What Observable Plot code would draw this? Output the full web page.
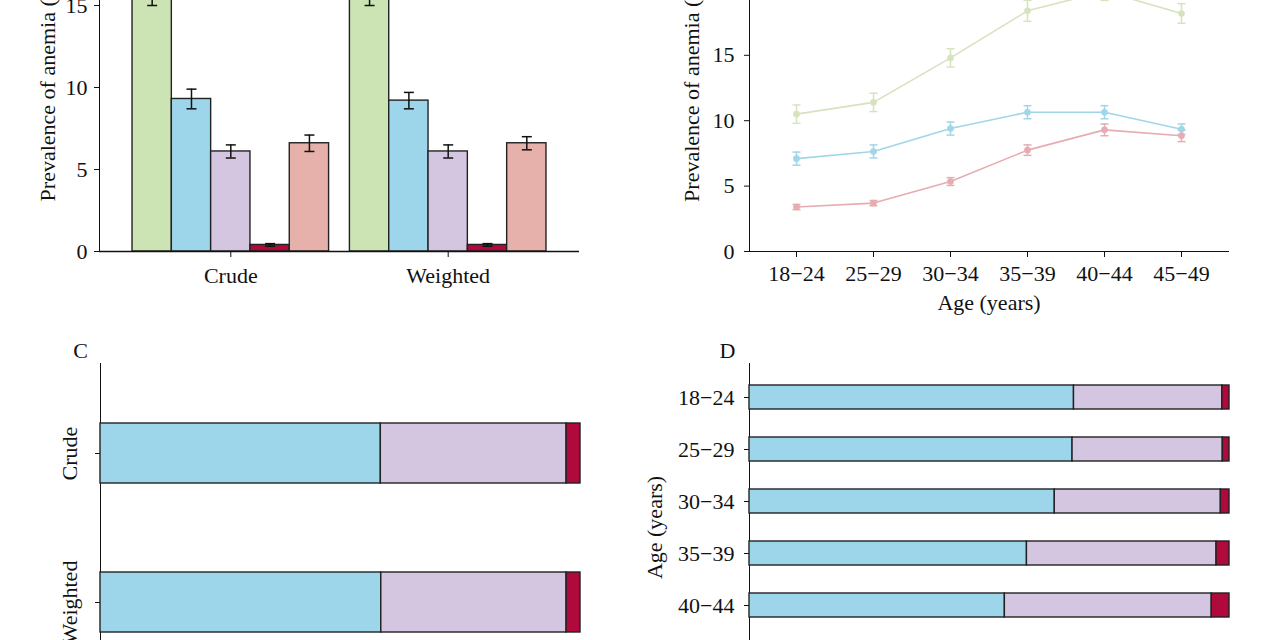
<!DOCTYPE html>
<html><head><meta charset="utf-8">
<script src="https://cdn.jsdelivr.net/npm/d3@7"></script>
<script src="https://cdn.jsdelivr.net/npm/@observablehq/plot@0.6"></script>
<style>
html,body{margin:0;padding:0;background:#fff;overflow:hidden;}
#wrap{position:relative;width:1280px;height:640px;overflow:hidden;background:#fff;}
.panel{position:absolute;}
</style></head><body><div id="wrap">
<div class="panel" id="pa" style="left:0;top:-97px"></div>
<div class="panel" id="pb" style="left:640px;top:-97px"></div>
<div class="panel" id="pc" style="left:0;top:333px"></div>
<div class="panel" id="pd" style="left:640px;top:333px"></div>
</div>
<script>
// ---------- data ----------
const groups = ["Crude", "Weighted"];
const categories = ["Any anemia", "Mild anemia", "Moderate anemia", "Severe anemia", "Iron deficiency anemia"];
const crudePrev = [15.8, 9.3, 6.1, 0.4, 6.6];
const crudeErr = [0.8, 0.6, 0.4, 0.08, 0.5];
const weightedPrev = [15.8, 9.2, 6.1, 0.4, 6.6];
const weightedErr = [0.8, 0.5, 0.4, 0.08, 0.4];
const barColors = ["#cce3b4", "#9dd5ea", "#d4c5e1", "#b0093c", "#e6b1ab"];

const ageGroups = ["18\u221224", "25\u221229", "30\u221234", "35\u221239", "40\u221244", "45\u221249"];
const lineSeries = ["Any anemia", "Mild anemia", "Iron deficiency anemia"];
const anyAnemiaByAge = [10.5, 11.4, 14.8, 18.4, 19.9, 18.2];
const anyAnemiaErrByAge = [0.7, 0.7, 0.7, 0.8, 0.7, 0.75];
const mildByAge = [7.1, 7.65, 9.4, 10.65, 10.65, 9.35];
const mildErrByAge = [0.5, 0.5, 0.5, 0.5, 0.5, 0.4];
const idaByAge = [3.4, 3.7, 5.35, 7.75, 9.3, 8.85];
const idaErrByAge = [0.2, 0.2, 0.3, 0.4, 0.45, 0.45];
const lineColors = ["#d6e3be", "#a0d6e8", "#e6acb1"];

const severityLevels = ["Mild", "Moderate", "Severe"];
const crudeShare = [58.4, 38.7, 2.9];
const weightedShare = [58.5, 38.6, 2.9];
const shareColors = ["#9dd5ea", "#d4c5e1", "#b0093c"];

const mildShareByAge = [67.6, 67.3, 63.6, 57.8, 53.2, 51.0];
const moderateShareByAge = [30.9, 31.3, 34.6, 39.5, 43.1, 44.5];
const severeShareByAge = [1.5, 1.4, 1.8, 2.7, 3.7, 4.5];

// ---------- shared ----------
const font = {fontFamily: "'Liberation Serif','Times New Roman',serif", fontSize: "22px", color: "#111", background: "transparent", overflow: "visible"};
const capSymbol = {draw(ctx) { ctx.moveTo(-5, 0); ctx.lineTo(5, 0); }};
const capSymbolSmall = {draw(ctx) { ctx.moveTo(-4, 0); ctx.lineTo(4, 0); }};

// ---------- Panel A ----------
const gapUnits = 0.53;
const nCat = categories.length;
const barsA = groups.flatMap((g, gi) => categories.map((c, ci) => ({
  group: g, cat: c, pos: gi * (nCat + gapUnits) + ci,
  value: (gi ? weightedPrev : crudePrev)[ci],
  err: (gi ? weightedErr : crudeErr)[ci]
})));
const groupCenters = groups.map((g, gi) => gi * (nCat + gapUnits) + (nCat - 1) / 2);
const outerUnits = 0.84;

const plotA = Plot.plot({
  width: 640, height: 408,
  marginLeft: 99, marginRight: 61, marginTop: 20, marginBottom: 60,
  style: font,
  x: {domain: [-0.5 - outerUnits, barsA[barsA.length - 1].pos + 0.5 + outerUnits], axis: null},
  y: {domain: [0, 20], ticks: [0, 5, 10, 15, 20], line: true, tickSize: 5, tickPadding: 7,
      label: "Prevalence of anemia (%)", labelAnchor: "center", labelOffset: 60, labelArrow: "none"},
  color: {domain: categories, range: barColors},
  marks: [
    Plot.rect(barsA, {x1: d => d.pos - 0.5, x2: d => d.pos + 0.5, y1: 0, y2: "value", fill: "cat", stroke: "#222", strokeWidth: 1.4}),
    Plot.ruleX(barsA, {x: "pos", y1: d => d.value - d.err, y2: d => d.value + d.err, stroke: "#111", strokeWidth: 1.5}),
    Plot.dot(barsA, {x: "pos", y: d => d.value - d.err, symbol: capSymbol, fill: "none", stroke: "#111", strokeWidth: 1.5}),
    Plot.dot(barsA, {x: "pos", y: d => d.value + d.err, symbol: capSymbol, fill: "none", stroke: "#111", strokeWidth: 1.5}),
    Plot.axisX(groupCenters, {tickFormat: (d, i) => groups[i], tickSize: 6, tickPadding: 10, label: null}),
    Plot.ruleY([0], {stroke: "#111", strokeWidth: 1.5})
  ]
});
document.getElementById("pa").append(plotA);

// ---------- Panel B ----------
const valsB = [anyAnemiaByAge, mildByAge, idaByAge];
const errsB = [anyAnemiaErrByAge, mildErrByAge, idaErrByAge];
const rowsB = lineSeries.flatMap((s, si) => ageGroups.map((a, ai) => ({series: s, age: a, value: valsB[si][ai], err: errsB[si][ai]})));

const plotB = Plot.plot({
  width: 640, height: 418,
  marginLeft: 109, marginRight: 52, marginTop: 21, marginBottom: 70,
  style: font,
  x: {domain: ageGroups, padding: 0.6, line: true, tickSize: 6, tickPadding: 8,
      label: "Age (years)", labelAnchor: "center", labelOffset: 58, labelArrow: "none"},
  y: {domain: [0, 25], ticks: [0, 5, 10, 15, 20, 25], line: true, tickSize: 5, tickPadding: 10,
      label: "Prevalence of anemia (%)", labelAnchor: "center", labelOffset: 66, labelArrow: "none"},
  color: {domain: lineSeries, range: lineColors},
  marks: [
    Plot.line(rowsB, {x: "age", y: "value", z: "series", stroke: "series", strokeWidth: 1.6}),
    Plot.ruleX(rowsB, {x: "age", y1: d => d.value - d.err, y2: d => d.value + d.err, stroke: "series", strokeWidth: 1.5}),
    Plot.dot(rowsB, {x: "age", y: d => d.value - d.err, symbol: capSymbolSmall, fill: "none", stroke: "series", strokeWidth: 1.5}),
    Plot.dot(rowsB, {x: "age", y: d => d.value + d.err, symbol: capSymbolSmall, fill: "none", stroke: "series", strokeWidth: 1.5}),
    Plot.dot(rowsB, {x: "age", y: "value", fill: "series", r: 3.3})
  ]
});
document.getElementById("pb").append(plotB);

// ---------- Panel C ----------
const rowsC = groups.flatMap((g, gi) => severityLevels.map((l, li) => ({group: g, level: l, share: (gi ? weightedShare : crudeShare)[li]})));
const plotC = Plot.plot({
  width: 640, height: 388,
  marginLeft: 100, marginRight: 60, marginTop: 30, marginBottom: 30,
  style: font,
  x: {domain: [0, 100], axis: null},
  y: {domain: groups, paddingInner: 0.6, paddingOuter: 0.4, line: true, tickSize: 5, tickPadding: 19, tickRotate: -90, label: null},
  color: {domain: severityLevels, range: shareColors},
  marks: [
    Plot.barX(rowsC, Plot.stackX({x: "share", y: "group", fill: "level", stroke: "#222", strokeWidth: 1.4, order: null})),
    Plot.text(["C"], {text: d => d, frameAnchor: "top-left", textAnchor: "middle", lineAnchor: "middle", dx: -20, dy: -13})
  ]
});
document.getElementById("pc").append(plotC);

// ---------- Panel D ----------
const sharesD = [mildShareByAge, moderateShareByAge, severeShareByAge];
const rowsD = ageGroups.flatMap((a, ai) => severityLevels.map((l, li) => ({age: a, level: l, share: sharesD[li][ai]})));
const plotD = Plot.plot({
  width: 640, height: 388,
  marginLeft: 109, marginRight: 51, marginTop: 30, marginBottom: 30,
  style: font,
  x: {domain: [0, 100], axis: null},
  y: {domain: ageGroups, paddingInner: 0.53, paddingOuter: 0.366, line: true, tickSize: 5, tickPadding: 10,
      label: "Age (years)", labelAnchor: "center", labelOffset: 103, labelArrow: "none"},
  color: {domain: severityLevels, range: shareColors},
  marks: [
    Plot.barX(rowsD, Plot.stackX({x: "share", y: "age", fill: "level", stroke: "#222", strokeWidth: 1.4, order: null})),
    Plot.text(["D"], {text: d => d, frameAnchor: "top-left", textAnchor: "middle", lineAnchor: "middle", dx: -22, dy: -13})
  ]
});
document.getElementById("pd").append(plotD);
</script>
</body></html>
